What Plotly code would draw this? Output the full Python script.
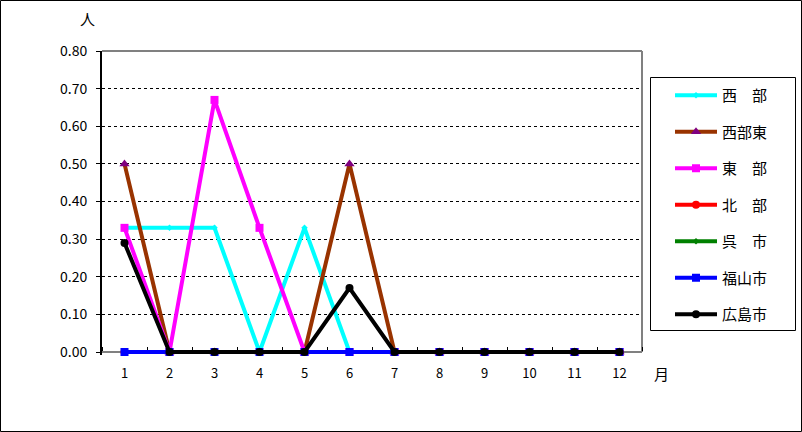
import plotly.graph_objects as go

months = list(range(1, 13))
month_labels = [str(m) for m in months]
series_names = ["西　部", "西部東", "東　部", "北　部", "呉　市", "福山市", "広島市"]
seibu = [0.33, 0.33, 0.33, 0, 0.33, 0, 0, 0, 0, 0, 0, 0]
seibu_higashi = [0.5, 0, 0, 0, 0, 0.5, 0, 0, 0, 0, 0, 0]
tobu = [0.33, 0, 0.67, 0.33, 0, 0, 0, 0, 0, 0, 0, 0]
hokubu = [0, 0, 0, 0, 0, 0, 0, 0, 0, 0, 0, 0]
kure = [0, 0, 0, 0, 0, 0, 0, 0, 0, 0, 0, 0]
fukuyama = [0, 0, 0, 0, 0, 0, 0, 0, 0, 0, 0, 0]
hiroshima = [0.29, 0, 0, 0, 0, 0.17, 0, 0, 0, 0, 0, 0]
y_ticks = [0, 0.1, 0.2, 0.3, 0.4, 0.5, 0.6, 0.7, 0.8]

values = [seibu, seibu_higashi, tobu, hokubu, kure, fukuyama, hiroshima]
line_colors = ["#00FFFF", "#993300", "#FF00FF", "#FF0000", "#008000", "#0000FF", "#000000"]
marker_colors = ["#00FFFF", "#800080", "#FF00FF", "#FF0000", "#008000", "#0000FF", "#000000"]
symbols = ["diamond", "triangle-up", "square", "circle", "diamond", "square", "circle"]
sizes = [5, 9, 8, 8, 5, 8, 8]

FONT = "Noto Sans CJK JP"

fig = go.Figure()
for i, name in enumerate(series_names):
    fig.add_trace(go.Scatter(
        x=months, y=values[i], name=name, mode="lines+markers",
        line=dict(color=line_colors[i], width=4),
        marker=dict(color=marker_colors[i], symbol=symbols[i], size=sizes[i]),
        legendgroup=f"g{i}", cliponaxis=False,
    ))

W, H = 802, 432
L, R, T, Z = 102, 642, 51, 352   # Z = pixel row of y=0
EXTRA = 3                          # px of plot area below zero so thick lines aren't clipped
B = Z + EXTRA
pw, ph = R - L, B - T
ymax = 0.8
ymin = -ymax * EXTRA / (Z - T)

def px(x):
    return (x - L) / pw

def py(y):
    return (B - y) / ph

fig.update_layout(
    width=W, height=H,
    margin=dict(l=L, r=W - R, t=T, b=H - B, pad=0),
    paper_bgcolor="white", plot_bgcolor="white",
    font=dict(family=FONT, size=12, color="black"),
    showlegend=True,
    legend=dict(
        x=px(670), y=py(79), xanchor="left", yanchor="top",
        borderwidth=0, bgcolor="rgba(0,0,0,0)",
        font=dict(family=FONT, size=15, color="black"),
        tracegroupgap=14, itemwidth=42,
        traceorder="grouped",
    ),
    xaxis=dict(
        range=[0.5, 12.5], tickvals=months, ticktext=month_labels,
        anchor="free", position=EXTRA / ph,
        showgrid=False, zeroline=False, showline=True, linecolor="#808080", linewidth=2,
        layer="below traces",
        ticks="", ticklabelstandoff=9,
        minor=dict(tickvals=[m + 0.5 for m in range(0, 13)], ticks="inside", ticklen=4,
                   tickcolor="black", showgrid=False),
        tickfont=dict(family=FONT, size=13),
        fixedrange=True,
    ),
    yaxis=dict(
        range=[ymin, ymax], tickvals=y_ticks, ticktext=[f"{v:.2f}" for v in y_ticks],
        showgrid=True, gridcolor="black", griddash="dot", gridwidth=1,
        zeroline=False, showline=True, linecolor="black", linewidth=2,
        layer="below traces",
        ticks="outside", ticklen=4, tickcolor="black",
        tickfont=dict(family=FONT, size=14),
        ticklabelstandoff=6,
    ),
    shapes=[
        dict(type="rect", xref="paper", yref="paper",
             x0=px(0.5), x1=px(801.5), y0=py(431.5), y1=py(0.5),
             line=dict(color="black", width=1), fillcolor="rgba(0,0,0,0)", layer="below"),
        dict(type="rect", xref="paper", yref="paper",
             x0=px(650.5), x1=px(795.5), y0=py(330.5), y1=py(77.5),
             line=dict(color="black", width=1), fillcolor="rgba(0,0,0,0)", layer="below"),
        dict(type="line", xref="paper", yref="paper", x0=0, x1=1, y0=1, y1=1,
             line=dict(color="#808080", width=2), layer="below"),
        dict(type="line", xref="paper", yref="paper", x0=1, x1=1, y0=EXTRA / ph, y1=1,
             line=dict(color="#808080", width=2), layer="below"),
    ],
    annotations=[
        dict(text="人", xref="paper", yref="paper", x=px(87), y=py(18), showarrow=False,
             font=dict(family=FONT, size=15), xanchor="center", yanchor="middle"),
        dict(text="月", xref="paper", yref="paper", x=px(661), y=py(373), showarrow=False,
             font=dict(family=FONT, size=15), xanchor="center", yanchor="middle"),
    ],
)

fig.write_html("out.html", config={"displayModeBar": False},
               post_script="document.body.style.margin='0';document.body.style.padding='0';")
